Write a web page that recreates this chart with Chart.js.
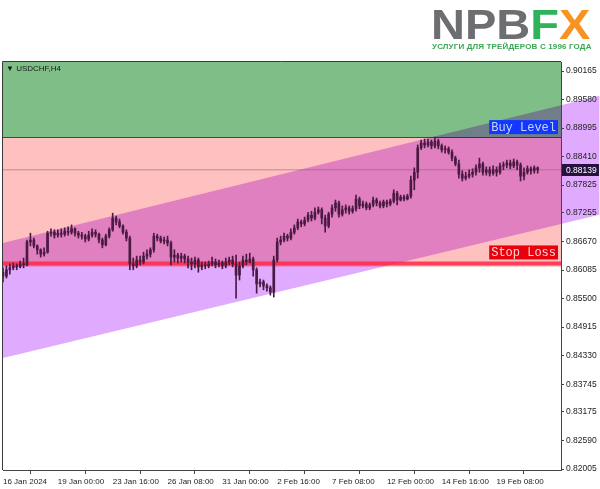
<!DOCTYPE html>
<html><head><meta charset="utf-8">
<script src="https://cdn.jsdelivr.net/npm/chart.js@4.4.1/dist/chart.umd.min.js"></script>
<style>
html,body{margin:0;padding:0;background:#fff;}
#wrap{position:relative;width:600px;height:489px;overflow:hidden;background:#fff;}
#c{position:absolute;left:0;top:0;}
.logo{position:absolute;left:431px;top:3px;font-family:"Liberation Sans",Arial,sans-serif;font-weight:bold;font-size:42px;line-height:44px;letter-spacing:0px;transform:scaleX(1.12);transform-origin:0 0;white-space:nowrap;}
.sub{position:absolute;left:432px;top:42px;font-family:"Liberation Sans",Arial,sans-serif;font-weight:bold;font-size:8px;letter-spacing:0.15px;color:#3aa655;white-space:nowrap;}
.sym{position:absolute;left:6px;top:64px;font:8px "Liberation Sans",Arial,sans-serif;color:#1a1a1a;white-space:nowrap;}
</style></head><body>
<div id="wrap">
<canvas id="c" width="600" height="489"></canvas>
<div class="logo"><span style="color:#6d6e71">NPB</span><span style="color:#2eb35a">F</span><span style="color:#f7931e">X</span></div>
<div class="sub">УСЛУГИ ДЛЯ ТРЕЙДЕРОВ С 1996 ГОДА</div>
<div class="sym">▼ USDCHF,H4</div>
</div>
<script>
// ---- data (USDCHF H4, bar index 0 = 16 Jan 2024 08:00) ----
const opens = [
.8604,.8596,.8609,.8613,.8617,.8615,.8621,.8619,.8666,.8670,
.8658,.8650,.8641,.8645,.8684,.8686,.8680,.8684,.8682,.8688,
.8686,.8693,.8684,.8680,.8678,.8672,.8680,.8686,.8682,.8670,
.8660,.8678,.8691,.8715,.8707,.8699,.8686,.8674,.8621,.8617,
.8629,.8625,.8637,.8641,.8650,.8678,.8674,.8668,.8670,.8664,
.8635,.8639,.8633,.8637,.8631,.8625,.8621,.8629,.8615,.8619,
.8617,.8621,.8625,.8619,.8623,.8617,.8625,.8629,.8621,.8598,
.8617,.8629,.8625,.8631,.8609,.8580,.8584,.8576,.8572,.8563,
.8629,.8666,.8670,.8678,.8674,.8686,.8695,.8707,.8703,.8711,
.8721,.8715,.8727,.8732,.8715,.8699,.8723,.8736,.8746,.8723,
.8732,.8736,.8729,.8734,.8754,.8740,.8744,.8736,.8742,.8752,
.8746,.8740,.8748,.8744,.8750,.8766,.8752,.8758,.8754,.8760,
.8793,.8809,.8859,.8869,.8865,.8871,.8863,.8873,.8863,.8855,
.8857,.8850,.8838,.8826,.8805,.8797,.8801,.8805,.8809,.8818,
.8826,.8809,.8814,.8807,.8814,.8809,.8822,.8824,.8828,.8822,
.8830,.8824,.8801,.8809,.8816,.8812,.8818];
const highs = [
.8613,.8617,.8621,.8623,.8621,.8627,.8633,.8670,.8684,.8674,
.8660,.8652,.8654,.8688,.8693,.8691,.8691,.8693,.8695,.8697,
.8701,.8695,.8688,.8686,.8682,.8688,.8693,.8691,.8684,.8674,
.8682,.8695,.8725,.8719,.8713,.8701,.8691,.8678,.8633,.8637,
.8637,.8645,.8650,.8654,.8684,.8682,.8678,.8676,.8678,.8668,
.8650,.8643,.8643,.8641,.8637,.8633,.8635,.8633,.8625,.8625,
.8627,.8635,.8631,.8629,.8627,.8633,.8635,.8637,.8639,.8625,
.8637,.8641,.8643,.8635,.8613,.8590,.8588,.8580,.8576,.8637,
.8674,.8678,.8684,.8682,.8693,.8701,.8713,.8711,.8717,.8727,
.8729,.8736,.8738,.8736,.8721,.8727,.8742,.8752,.8750,.8740,
.8742,.8740,.8740,.8762,.8758,.8750,.8748,.8746,.8758,.8756,
.8750,.8752,.8752,.8754,.8773,.8770,.8762,.8762,.8764,.8801,
.8818,.8865,.8875,.8877,.8877,.8875,.8881,.8877,.8867,.8863,
.8861,.8855,.8842,.8834,.8812,.8809,.8814,.8816,.8824,.8838,
.8830,.8820,.8820,.8822,.8820,.8828,.8830,.8834,.8834,.8836,
.8834,.8828,.8818,.8822,.8820,.8822,.8820];
const lows = [
.8584,.8592,.8600,.8609,.8609,.8613,.8613,.8617,.8658,.8654,
.8641,.8635,.8637,.8643,.8678,.8674,.8676,.8676,.8678,.8680,
.8682,.8678,.8674,.8672,.8666,.8668,.8676,.8676,.8664,.8654,
.8658,.8674,.8688,.8701,.8695,.8682,.8668,.8609,.8609,.8613,
.8619,.8621,.8631,.8635,.8645,.8668,.8664,.8662,.8658,.8619,
.8625,.8623,.8625,.8623,.8613,.8609,.8613,.8604,.8609,.8611,
.8613,.8617,.8613,.8615,.8611,.8613,.8619,.8615,.8551,.8588,
.8613,.8619,.8623,.8596,.8561,.8574,.8568,.8565,.8557,.8553,
.8625,.8660,.8666,.8668,.8670,.8682,.8691,.8697,.8699,.8707,
.8709,.8711,.8723,.8703,.8686,.8695,.8717,.8729,.8717,.8719,
.8725,.8723,.8725,.8729,.8734,.8736,.8732,.8732,.8738,.8740,
.8736,.8736,.8738,.8740,.8746,.8742,.8750,.8750,.8752,.8756,
.8773,.8797,.8855,.8859,.8861,.8857,.8859,.8857,.8850,.8848,
.8846,.8832,.8822,.8797,.8791,.8793,.8797,.8799,.8803,.8809,
.8803,.8803,.8801,.8803,.8801,.8805,.8814,.8818,.8816,.8818,
.8814,.8791,.8793,.8805,.8805,.8807,.8807];
const closes = [
.8596,.8609,.8613,.8617,.8615,.8621,.8619,.8666,.8670,.8658,
.8650,.8641,.8645,.8684,.8686,.8680,.8684,.8682,.8688,.8686,
.8693,.8684,.8680,.8678,.8672,.8680,.8686,.8682,.8670,.8660,
.8678,.8691,.8715,.8707,.8699,.8686,.8674,.8621,.8617,.8629,
.8625,.8637,.8641,.8650,.8678,.8674,.8668,.8670,.8664,.8635,
.8639,.8633,.8637,.8631,.8625,.8621,.8629,.8615,.8619,.8617,
.8621,.8625,.8619,.8623,.8617,.8625,.8629,.8621,.8598,.8617,
.8629,.8625,.8631,.8609,.8580,.8584,.8576,.8572,.8563,.8629,
.8666,.8670,.8678,.8674,.8686,.8695,.8707,.8703,.8711,.8721,
.8715,.8727,.8732,.8715,.8699,.8723,.8736,.8746,.8723,.8732,
.8736,.8729,.8734,.8754,.8740,.8744,.8736,.8742,.8752,.8746,
.8740,.8748,.8744,.8750,.8766,.8752,.8758,.8754,.8760,.8793,
.8809,.8859,.8869,.8865,.8871,.8863,.8873,.8863,.8855,.8857,
.8850,.8838,.8826,.8805,.8797,.8801,.8805,.8809,.8818,.8826,
.8809,.8814,.8807,.8814,.8809,.8822,.8824,.8828,.8822,.8830,
.8824,.8801,.8809,.8816,.8812,.8818,.88139];

const xTickIndex  = [0, 16, 32, 48, 64, 80, 96, 112, 128, 144];
const xTickLabels = ['16 Jan 2024','19 Jan 00:00','23 Jan 16:00','26 Jan 08:00','31 Jan 00:00','2 Feb 16:00','7 Feb 08:00','12 Feb 00:00','14 Feb 16:00','19 Feb 08:00'];
const yTicks = [0.90165,0.89580,0.88995,0.88410,0.87825,0.87255,0.86670,0.86085,0.85500,0.84915,0.84330,0.83745,0.83175,0.82590,0.82005];
const xRange = [0, 162.8];
const yRange = [0.81985, 0.90350];

const buyLevel = 0.8879;
const stopLevel = 0.8622;
const stopZoneBottom = 0.8615;
const lastPrice = 0.88139;
const channelX = [0, 174];
const channelUpper = [0.8664, 0.8966];
const channelLower = [0.8428, 0.8722];

// ---- styles ----
const GREEN = '#7fbf87', PINK = '#ffc0c0', PURPLE = '#e0aaff';
const CANDLE = '#4b1a42';
const FONT = 'Liberation Sans';

const hline = (v) => [{x:xRange[0], y:v},{x:xRange[1], y:v}];
const chanPts = (arr) => channelX.map((x,i)=>({x:x, y:arr[i]}));

const overlay = {
  id: 'overlay',
  beforeDraw(chart){
    const {ctx, chartArea:a, scales:{x,y}} = chart;
    const vr = x.getValueForPixel(a.right);
    const t = (vr - channelX[0])/(channelX[1]-channelX[0]);
    const u = channelUpper[0] + t*(channelUpper[1]-channelUpper[0]);
    const l = channelLower[0] + t*(channelLower[1]-channelLower[0]);
    const xe = x.getPixelForValue(channelX[1]);
    ctx.save();
    ctx.beginPath();
    ctx.moveTo(a.right, y.getPixelForValue(u));
    ctx.lineTo(xe, y.getPixelForValue(channelUpper[1]));
    ctx.lineTo(xe, y.getPixelForValue(channelLower[1]));
    ctx.lineTo(a.right, y.getPixelForValue(l));
    ctx.closePath();
    ctx.fillStyle = PURPLE;
    ctx.fill();
    ctx.restore();
  },
  afterDatasetDraw(chart, args){
    const id = chart.data.datasets[args.index].id;
    if (id === 'zone') chart.ctx.globalCompositeOperation = 'multiply';
    if (id === 'chanUp') chart.ctx.globalCompositeOperation = 'source-over';
  },
  afterDraw(chart){
    const {ctx, chartArea:a, scales:{y}} = chart;
    ctx.save();
    ctx.globalCompositeOperation = 'source-over';
    ctx.strokeStyle = '#3a3a3a'; ctx.lineWidth = 1;
    ctx.beginPath();
    ctx.moveTo(a.left-0.5, a.bottom); ctx.lineTo(a.left-0.5, a.top-0.5); ctx.lineTo(a.right, a.top-0.5);
    ctx.stroke();
    const tag = (txt, yb, bg, fg) => {
      ctx.font = '12px "Liberation Mono"';
      const w = ctx.measureText(txt).width + 4;
      const xl = a.right - 3 - w;
      ctx.fillStyle = bg; ctx.fillRect(xl, yb - 14, w, 14);
      ctx.fillStyle = fg; ctx.textAlign = 'left'; ctx.textBaseline = 'alphabetic';
      ctx.fillText(txt, xl + 2, yb - 3);
    };
    tag('Buy Level', y.getPixelForValue(buyLevel) - 4, '#1238ff', '#c8d4ff');
    tag('Stop Loss', y.getPixelForValue(stopLevel) - 4, '#e8000a', '#ffd8d8');
    const py = Math.round(y.getPixelForValue(lastPrice));
    ctx.fillStyle = '#26123f';
    ctx.fillRect(a.right + 1, py - 6, 37, 12);
    ctx.fillStyle = '#ffffff'; ctx.font = '8.5px "' + FONT + '"';
    ctx.textBaseline = 'middle'; ctx.textAlign = 'left';
    ctx.fillText(lastPrice.toFixed(5), a.right + 5, py + 0.5);
    ctx.restore();
  }
};

new Chart(document.getElementById('c'), {
  type: 'bar',
  data: {
    datasets: [
      {id:'buy', type:'line', data: hline(buyLevel), fill:'end', backgroundColor: GREEN, borderColor:'#32486a', borderWidth:2, pointRadius:0, order:10},
      {id:'zone', type:'line', data: hline(stopZoneBottom), fill:'-1', backgroundColor: PINK, borderWidth:0, pointRadius:0, order:9},
      {id:'chanLow', type:'line', data: chanPts(channelLower), fill:false, borderWidth:0, pointRadius:0, order:8.5},
      {id:'chanUp', type:'line', data: chanPts(channelUpper), fill:'-1', backgroundColor: PURPLE, borderWidth:0, pointRadius:0, order:8},
      {id:'stop', type:'line', data: hline(stopLevel), fill:false, borderColor:'rgba(255,40,70,0.85)', borderWidth:4, pointRadius:0, order:7},
      {id:'price', type:'line', data: hline(lastPrice), fill:false, borderColor:'rgba(140,90,110,0.55)', borderWidth:1, pointRadius:0, order:6},
      {id:'wicks', type:'bar', data: lows.map((l,i)=>({x:i, y:[l, highs[i]]})), backgroundColor: CANDLE, barThickness:1, grouped:false, order:2},
      {id:'bodies', type:'bar', data: opens.map((o,i)=>({x:i, y:[o, closes[i]]})), backgroundColor: CANDLE, barThickness:2, minBarLength:1, grouped:false, order:1}
    ]
  },
  options: {
    responsive:false, animation:false, devicePixelRatio:1,
    layout:{padding:{top:62, left:3, right:0, bottom:0}},
    plugins:{legend:{display:false}, tooltip:{enabled:false}},
    scales:{
      x:{type:'linear', min:xRange[0], max:xRange[1], offset:false,
        afterBuildTicks: s => { s.ticks = xTickIndex.map(v=>({value:v})); },
        afterFit: s => { s.height = 19; },
        ticks:{callback: v => xTickLabels[xTickIndex.indexOf(v)], align:'start', maxRotation:0, autoSkip:false,
               font:{family:FONT, size:8}, color:'#222', padding:3},
        grid:{drawOnChartArea:false, drawTicks:true, tickLength:4, color:'#444'},
        border:{display:true, color:'#444', width:1}
      },
      y:{type:'linear', position:'right', min:yRange[0], max:yRange[1],
        afterBuildTicks: s => { s.ticks = yTicks.map(v=>({value:v})); },
        afterFit: s => { s.width = 39; },
        ticks:{callback: v => v.toFixed(5), autoSkip:false, font:{family:FONT, size:8.5}, color:'#222', padding:2},
        grid:{drawOnChartArea:false, drawTicks:true, tickLength:3, color:'#444'},
        border:{display:true, color:'#444', width:1}
      }
    }
  },
  plugins:[overlay]
});
</script>
</body></html>
